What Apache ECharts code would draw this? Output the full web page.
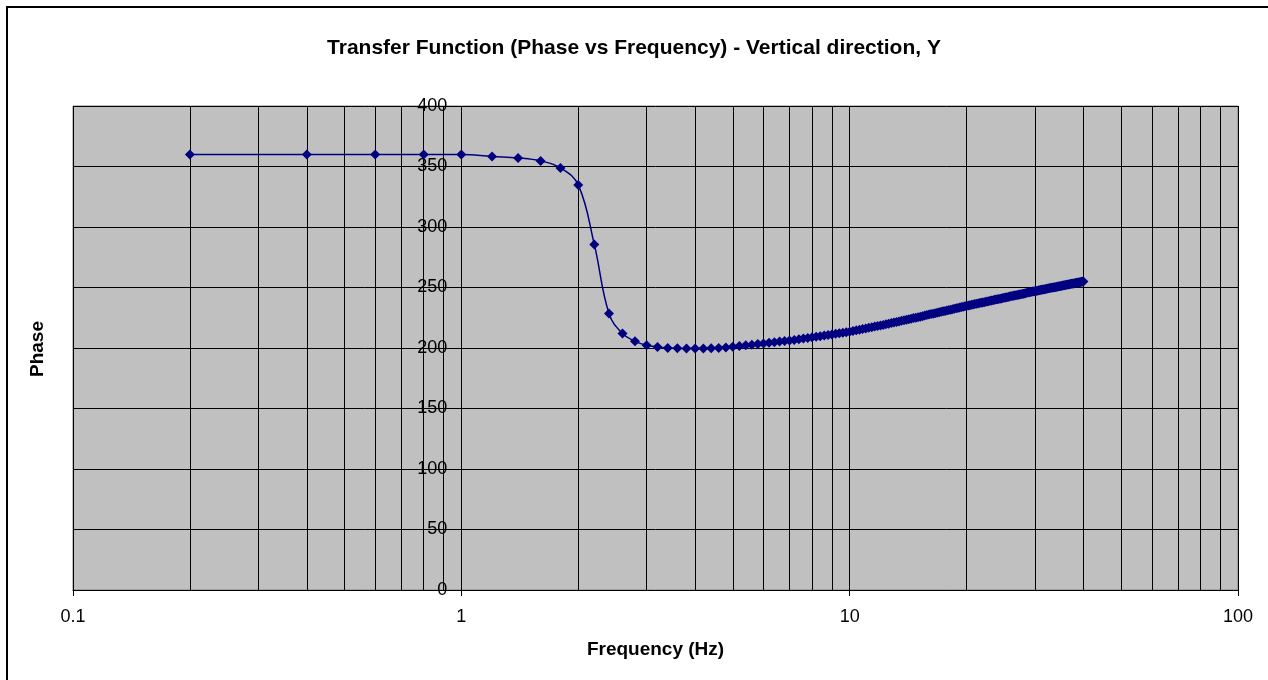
<!DOCTYPE html>
<html>
<head>
<meta charset="utf-8">
<script src="https://cdn.jsdelivr.net/npm/echarts@6/dist/echarts.min.js"></script>
<style>
html,body{margin:0;padding:0;background:#fff;}
#chart{width:1268px;height:680px;}
</style>
</head>
<body>
<div id="chart"></div>
<script>
const titleText = 'Transfer Function (Phase vs Frequency) - Vertical direction, Y';
const xAxisName = 'Frequency (Hz)';
const yAxisName = 'Phase';

const frequency = [
  0.2,0.4,0.6,0.8,1,1.2,1.4,1.6,1.8,2,
  2.2,2.4,2.6,2.8,3,3.2,3.4,3.6,3.8,4,
  4.2,4.4,4.6,4.8,5,5.2,5.4,5.6,5.8,6,
  6.2,6.4,6.6,6.8,7,7.2,7.4,7.6,7.8,8,
  8.2,8.4,8.6,8.8,9,9.2,9.4,9.6,9.8,10,
  10.2,10.4,10.6,10.8,11,11.2,11.4,11.6,11.8,12,
  12.2,12.4,12.6,12.8,13,13.2,13.4,13.6,13.8,14,
  14.2,14.4,14.6,14.8,15,15.2,15.4,15.6,15.8,16,
  16.2,16.4,16.6,16.8,17,17.2,17.4,17.6,17.8,18,
  18.2,18.4,18.6,18.8,19,19.2,19.4,19.6,19.8,20,
  20.2,20.4,20.6,20.8,21,21.2,21.4,21.6,21.8,22,
  22.2,22.4,22.6,22.8,23,23.2,23.4,23.6,23.8,24,
  24.2,24.4,24.6,24.8,25,25.2,25.4,25.6,25.8,26,
  26.2,26.4,26.6,26.8,27,27.2,27.4,27.6,27.8,28,
  28.2,28.4,28.6,28.8,29,29.2,29.4,29.6,29.8,30,
  30.2,30.4,30.6,30.8,31,31.2,31.4,31.6,31.8,32,
  32.2,32.4,32.6,32.8,33,33.2,33.4,33.6,33.8,34,
  34.2,34.4,34.6,34.8,35,35.2,35.4,35.6,35.8,36,
  36.2,36.4,36.6,36.8,37,37.2,37.4,37.6,37.8,38,
  38.2,38.4,38.6,38.8,39,39.2,39.4,39.6,39.8,40
];

const phase = [
  360,360,360,360,360,358.3,357.1,354.6,348.8,334.8,
  285.6,228.5,211.9,205.5,202.3,200.9,200.1,199.7,199.5,199.5,
  199.6,199.8,200.1,200.5,201.0,201.6,202.2,202.7,203.3,203.8,
  204.3,204.8,205.3,205.7,206.2,206.7,207.3,207.8,208.3,208.8,
  209.3,209.8,210.3,210.7,211.2,211.7,212.1,212.6,213.1,213.5,
  214.1,214.6,215.1,215.7,216.2,216.7,217.2,217.7,218.1,218.6,
  219.1,219.6,220.1,220.6,221.1,221.5,222.0,222.5,222.9,223.4,
  223.8,224.2,224.7,225.1,225.5,225.9,226.3,226.8,227.2,227.6,
  228.0,228.4,228.7,229.1,229.5,229.9,230.3,230.6,231.0,231.4,
  231.7,232.1,232.4,232.8,233.1,233.5,233.8,234.1,234.5,234.8,
  235.1,235.4,235.7,236.0,236.3,236.5,236.8,237.1,237.4,237.7,
  237.9,238.2,238.5,238.7,239.0,239.3,239.5,239.8,240.0,240.3,
  240.5,240.8,241.0,241.3,241.5,241.7,242.0,242.2,242.5,242.7,
  242.9,243.1,243.4,243.6,243.8,244.0,244.3,244.5,244.7,244.9,
  245.1,245.3,245.6,245.8,246.0,246.2,246.4,246.6,246.8,247.0,
  247.2,247.4,247.6,247.7,247.9,248.1,248.3,248.4,248.6,248.8,
  249.0,249.1,249.3,249.5,249.7,249.8,250.0,250.2,250.3,250.5,
  250.7,250.8,251.0,251.1,251.3,251.5,251.6,251.8,251.9,252.1,
  252.2,252.4,252.5,252.7,252.8,253.0,253.1,253.3,253.4,253.6,
  253.7,253.9,254.0,254.2,254.3,254.4,254.6,254.7,254.9,255.0
];

const xMin = 0.1, xMax = 100;
const yMin = 0, yMax = 400, yStep = 50;
const minorGridX = [0.2,0.3,0.4,0.5,0.6,0.7,0.8,0.9,2,3,4,5,6,7,8,9,20,30,40,50,60,70,80,90];

const FONT = '"Liberation Sans", Arial, sans-serif';
const chart = echarts.init(document.getElementById('chart'), null, {renderer:'canvas'});

const gridLeft = 73, gridTop = 106, gridRight = 30, gridBottom = 90;
const plotW = 1268 - gridLeft - gridRight;
// y axis crosses x axis at frequency 1
const yAxisOffset = -plotW * (Math.log10(1) - Math.log10(xMin)) / (Math.log10(xMax) - Math.log10(xMin));

chart.setOption({
  animation: false,
  backgroundColor: '#ffffff',
  title: {
    text: titleText,
    left: 'center',
    top: 33,
    textStyle: {fontFamily: FONT, fontSize: 21, fontWeight: 'bold', color: '#000'}
  },
  graphic: [
    {type:'rect', z: -10, silent:true, shape:{x:7, y:7, width:1300, height:700},
     style:{fill:'none', stroke:'#000', lineWidth:2}},
    {type:'text', silent:true,
     style:{text: yAxisName, fontFamily: FONT, fontSize: 19, fontWeight:'bold', fill:'#000',
            align:'center', verticalAlign:'middle'},
     rotation: Math.PI/2, x: 38, y: 349}
  ],
  grid: {
    left: gridLeft, top: gridTop, right: gridRight, bottom: gridBottom,
    show: true, backgroundColor: '#C0C0C0', borderColor: '#808080', borderWidth: 1
  },
  xAxis: {
    type: 'log', logBase: 10, min: xMin, max: xMax,
    name: xAxisName, nameLocation: 'middle', nameGap: 50,
    nameTextStyle: {fontFamily: FONT, fontSize: 19, fontWeight: 'bold', color: '#000'},
    axisLine: {show: true, lineStyle: {color: '#000', width: 1}},
    axisTick: {show: true, length: 6, lineStyle: {color: '#000'}},
    axisLabel: {fontFamily: FONT, fontSize: 18, color: '#000', margin: 18,
      formatter: function(v){ return String(+v.toPrecision(6)); }},
    splitLine: {show: true, lineStyle: {color: '#000', width: 1}},
    minorTick: {show: false}, minorSplitLine: {show: false}
  },
  yAxis: {
    type: 'value', min: yMin, max: yMax, interval: yStep,
    position: 'left', offset: yAxisOffset,
    axisLine: {show: false},
    axisTick: {show: true, length: 5, lineStyle: {color: '#000'}},
    axisLabel: {fontFamily: FONT, fontSize: 18, color: '#000', margin: 14},
    splitLine: {show: true, lineStyle: {color: '#000', width: 1}}
  },
  series: [{
    type: 'line',
    data: frequency.map((f, i) => [f, phase[i]]),
    smooth: 0.4,
    showAllSymbol: true,
    symbol: 'diamond',
    symbolSize: 10,
    lineStyle: {color: '#000080', width: 1.5},
    itemStyle: {color: '#000080', borderWidth: 0},
    z: 5,
    markLine: {
      silent: true, symbol: ['none','none'], z: 1,
      label: {show: false},
      lineStyle: {color: '#000', width: 1, type: 'solid'},
      emphasis: {disabled: true},
      data: minorGridX.map(v => ({xAxis: v}))
    }
  }]
});
</script>
</body>
</html>
